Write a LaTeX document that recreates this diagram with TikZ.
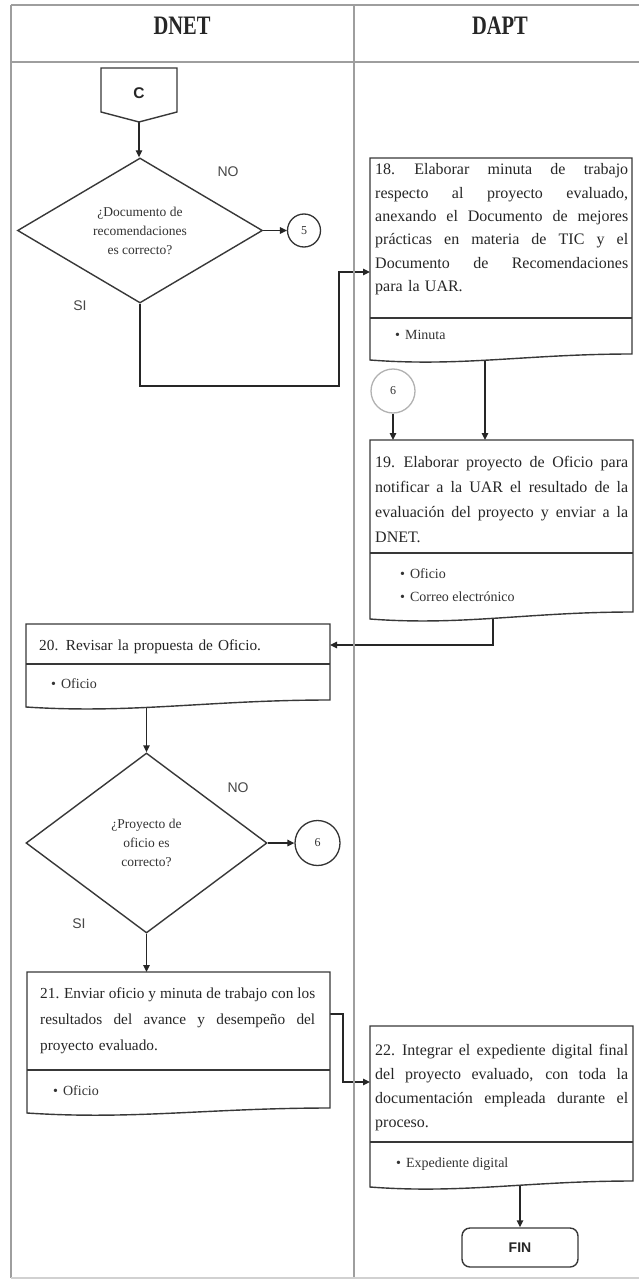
\documentclass[tikz,border=0pt]{standalone}
\usepackage{fontspec}
\setmainfont{Liberation Serif}
\newfontfamily\sansf{Liberation Sans}
\usetikzlibrary{arrows.meta,shapes.geometric,calc}
\pgfdeclarelayer{back}
\pgfdeclarelayer{bg}
\pgfsetlayers{back,bg,main}

% one justified line of a process text (spaces stretch to fill the width)
\newcommand\jline[2][253pt]{\leavevmode\hbox to #1{\spaceskip=0.25em plus 1fil\relax
  \xspaceskip=0.3em plus 1fil\relax #2}}

% process box: upper text part, separator, lower part with a wavy (document) bottom
% #1 name, #2 left, #3 top, #4 right, #5 separator y, #6 bottom-left y, #7 bottom-right y
\newcommand\docbox[7]{%
  \pgfmathsetmacro\dbw{#4-#2}%
  \pgfmathsetmacro\dbh{#6-#3}%
  \pgfmathsetmacro\dbca{#4-0.4*\dbw}%
  \pgfmathsetmacro\dbcb{#2+0.35*\dbw}%
  \filldraw[boxline] (#2,#3) -- (#4,#3) -- (#4,#7)
     .. controls (\dbca,#7) and (\dbcb,{#6+7}) .. (#2,#6) -- cycle;
  \draw[boxline] (#2,#5) -- (#4,#5);
  \node[inner sep=0pt, outer sep=0pt, minimum width=\dbw, minimum height=\dbh,
        anchor=north west] (#1) at (#2,#3) {};
}

\tikzset{
  lane/.style={draw=black!38, line width=2pt},
  boxline/.style={draw=black!78, line width=1.4pt, fill=white},
  flow/.style={draw=black!85, line width=1.4pt, -{Triangle[length=7pt,width=6.5pt]}},
  head/.style={font=\bfseries\fontsize{20.5}{20.5}\selectfont, text=black!85},
  body/.style={font=\fontsize{16}{24}\selectfont, text=black!85, inner sep=0pt,
               text width=253pt, align=left, anchor=base west},
  bodyl/.style={body, font=\fontsize{15.3}{24}\selectfont, text width=275pt},
  bul/.style={font=\fontsize{14}{23}\selectfont, text=black!80, inner sep=0pt,
              anchor=base west},
  lab/.style={font=\sansf\fontsize{14}{16}\selectfont, text=black!72},
  dia/.style={shape=diamond, draw=black!78, line width=1.4pt, fill=white, inner sep=0pt,
              align=center, text=black!80, font=\fontsize{13.5}{19}\selectfont},
  conn/.style={circle, draw=black!80, line width=1.3pt, fill=white, inner sep=0pt,
               text=black!80, font=\fontsize{12}{12}\selectfont},
  term/.style={draw=black!78, line width=1.4pt, rounded corners=8pt, fill=white,
               font=\sansf\bfseries\fontsize{14}{14}\selectfont, text=black!85}
}

\begin{document}
\begin{tikzpicture}[x=1pt,y=-1pt]
\useasboundingbox (0,0) rectangle (639,1281);
\begin{pgfonlayer}{back}
\fill[white] (0,0) rectangle (639,1281);
\end{pgfonlayer}

% swimlanes
\draw[lane] (11,5) -- (639,5);
\draw[lane] (11,62) -- (639,62);
\draw[lane] (11,5) -- (11,1278);
\draw[lane] (353.5,5) -- (353.5,1278);
\draw[lane, draw=black!18] (11,1278) -- (639,1278);
\node[head] (hdnet) at (182,25.5) {\scalebox{1}[1.3]{DNET}};
\node[head] (hdapt) at (500,25.5) {\scalebox{1}[1.3]{DAPT}};

% off-page connector C
\filldraw[boxline] (101,68) -- (177,68) -- (177,112) -- (139,122) -- (101,112) -- cycle;
\node[font=\sansf\bfseries\fontsize{15.5}{15.5}\selectfont, text=black!85] (cC) at (139,93) {C};
\coordinate (ctip) at (139,122);

% decision 1
\node[dia, minimum width=245, minimum height=145] (d1) at (140,230.5)
  {¿Documento de\\recomendaciones\\es correcto?};
\node[conn, minimum size=33] (c5) at (304,230.5) {5};
\node[lab] (no1) at (228,172) {NO};
\node[lab] (si1) at (80,306) {SI};
\coordinate (j1) at (339,386);

% step 18
\docbox{b18}{370}{158}{632}{318}{360}{354}
\node[body, font=\fontsize{16}{23.3}\selectfont] (t18) at (375,175)
  {\jline{18. Elaborar minuta de trabajo}\\
   \jline{respecto al proyecto evaluado,}\\
   \jline{anexando el Documento de mejores}\\
   \jline{prácticas en materia de TIC y el}\\
   \jline{Documento de Recomendaciones}\\
   para la UAR.};
\node[bul] (u18) at (395,339) {\textbullet\hspace{5pt}Minuta};

% connector 6 (incoming)
\node[conn, minimum size=44, draw=black!30] (c6b) at (393,391) {6};

% step 19
\docbox{b19}{370}{440}{633}{553}{619}{612}
\node[body, font=\fontsize{16}{25}\selectfont] (t19) at (375,467)
  {\jline{19. Elaborar proyecto de Oficio para}\\
   \jline{notificar a la UAR el resultado de la}\\
   \jline{evaluación del proyecto y enviar a la}\\
   DNET.};
\node[bul] (u19a) at (400,578) {\textbullet\hspace{5pt}Oficio};
\node[bul] (u19b) at (400,601) {\textbullet\hspace{5pt}Correo electrónico};

% step 20
\docbox{b20}{26}{624}{330}{664}{707}{700}
\node[bodyl] (t20) at (39,650) {20. Revisar la propuesta de Oficio.};
\node[bul] (u20) at (51,688) {\textbullet\hspace{5pt}Oficio};

% decision 2
\node[dia, minimum width=241, minimum height=180] (d2) at (146.5,843)
  {¿Proyecto de\\oficio es\\correcto?};
\node[conn, minimum size=45] (c6) at (317.5,843) {6};
\node[lab] (no2) at (238,788) {NO};
\node[lab] (si2) at (79,924) {SI};

% step 21
\docbox{b21}{27}{972}{330}{1070}{1113}{1108}
\node[bodyl, font=\fontsize{15.3}{26}\selectfont] (t21) at (40,998)
  {\jline[275pt]{21. Enviar oficio y minuta de trabajo con los}\\
   \jline[275pt]{resultados del avance y desempeño del}\\
   proyecto evaluado.};
\node[bul] (u21) at (53,1095) {\textbullet\hspace{5pt}Oficio};
\coordinate (j2) at (343,1014);

% step 22
\docbox{b22}{370}{1026}{633}{1142}{1187}{1181}
\node[body, font=\fontsize{16}{24}\selectfont] (t22) at (375,1055)
  {\jline{22. Integrar el expediente digital final}\\
   \jline{del proyecto evaluado, con toda la}\\
   \jline{documentación empleada durante el}\\
   proceso.};
\node[bul] (u22) at (396,1167) {\textbullet\hspace{5pt}Expediente digital};

% end
\node[term, minimum width=116, minimum height=39] (fin) at (520,1247.5) {FIN};

% connectors
\begin{pgfonlayer}{bg}
\draw[flow] (ctip) -- (ctip |- d1.north);
\draw[flow] (d1.east) -- (c5.west);
\draw[flow] (d1.south) |- (j1) |- ([yshift=-114pt]b18.north west);
\draw[flow] ($(b18.south west)+(115,-12)$) -- ($(b19.north west)+(115,0)$);
\draw[flow] (c6b.south) -- (c6b.south |- b19.north);
\draw[flow] ($(b19.south west)+(123,-12)$) |- ([yshift=-21pt]b20.north east);
\draw[flow] ($(d2.north |- b20.south)+(0,-12)$) -- (d2.north);
\draw[flow] (d2.east) -- (c6.west);
\draw[flow] (d2.south) -- (d2.south |- b21.north);
\draw[flow] ([yshift=-42pt]b21.north east) -- (j2) |- ([yshift=-56pt]b22.north west);
\draw[flow] ($(fin.north |- b22.south)+(0,-12)$) -- (fin.north);
\end{pgfonlayer}
\end{tikzpicture}
\end{document}
